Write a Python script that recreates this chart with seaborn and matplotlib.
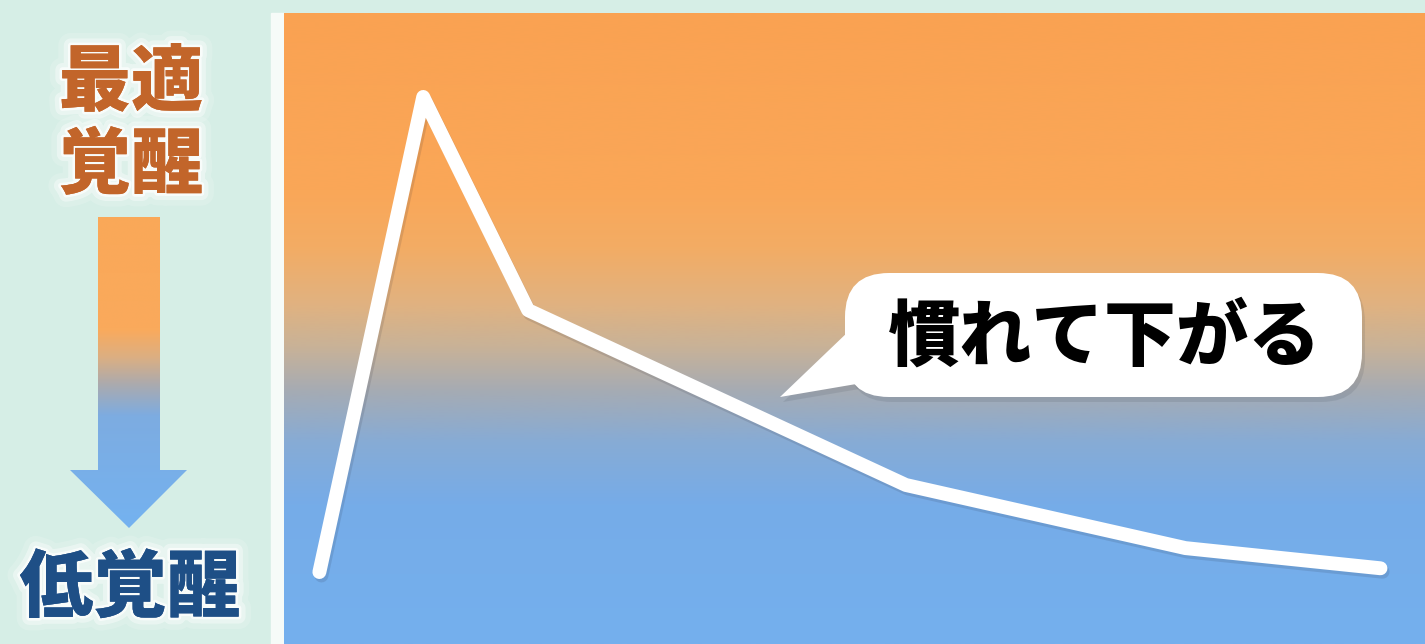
import numpy as np
import pandas as pd
import matplotlib
matplotlib.use("Agg")
import matplotlib.pyplot as plt
import matplotlib.patheffects as pe
from matplotlib.patches import Polygon, FancyBboxPatch, Rectangle
from matplotlib.colors import LinearSegmentedColormap
import seaborn as sns

# ---- data (arbitrary units: time 0-100, arousal 0-100) ----
time_pts = [3.1, 12.2, 21.4, 54.5, 79.0, 96.1]
arousal = [11.4, 86.7, 52.9, 25.2, 15.2, 12.0]
label_top = "最適\n覚醒"
label_bottom = "低覚醒"
bubble_text = "慣れて下がる"

sns.set_theme(style="white")
plt.rcParams['font.family'] = ['Noto Sans CJK JP', 'DejaVu Sans']

W, H = 1425, 644
fig = plt.figure(figsize=(W / 100, H / 100), dpi=100)
fig.patch.set_facecolor("#d6eee6")

# background overlay (pixel coordinates)
bg = fig.add_axes([0, 0, 1, 1], zorder=0)
bg.set_xlim(0, W); bg.set_ylim(H, 0); bg.axis("off")

# white strip left of plot
bg.add_patch(Rectangle((271, 13), 13, H - 13, color="#f6fbf8", zorder=1))

# gradient colormap (orange -> grey -> blue), top to bottom
grad_cmap = LinearSegmentedColormap.from_list(
    "arousal",
    [(0.00, (250/255, 162/255, 82/255)),
     (0.28, (250/255, 167/255, 88/255)),
     (0.37, (243/255, 172/255, 100/255)),
     (0.46, (225/255, 178/255, 128/255)),
     (0.53, (200/255, 178/255, 152/255)),
     (0.60, (165/255, 171/255, 180/255)),
     (0.68, (135/255, 171/255, 213/255)),
     (0.78, (118/255, 172/255, 232/255)),
     (1.00, (116/255, 176/255, 238/255))])

arrow_cmap = LinearSegmentedColormap.from_list(
    "arrow",
    [(0.00, (250/255, 168/255, 88/255)),
     (0.36, (250/255, 170/255, 92/255)),
     (0.45, (220/255, 175/255, 130/255)),
     (0.54, (170/255, 170/255, 175/255)),
     (0.64, (125/255, 172/255, 225/255)),
     (1.00, (116/255, 178/255, 240/255))])

# left arrow with gradient
arrow_pts = [(98, 217), (160, 217), (160, 470), (187, 470), (129, 528),
             (70, 470), (98, 470)]
arrow_poly = Polygon(arrow_pts, closed=True, facecolor="none", edgecolor="none")
bg.add_patch(arrow_poly)
gy = np.linspace(0, 1, 256).reshape(-1, 1)
im = bg.imshow(gy, cmap=arrow_cmap, extent=(60, 200, 528, 217), aspect="auto",
               zorder=2, interpolation="bicubic")
im.set_clip_path(arrow_poly)
bg.set_xlim(0, W); bg.set_ylim(H, 0)

glow = [pe.withStroke(linewidth=18, foreground=(1, 1, 1, 0.15)),
        pe.withStroke(linewidth=10, foreground=(1, 1, 1, 0.4)),
        pe.withStroke(linewidth=4, foreground=(1, 1, 1, 0.7)),
        pe.Normal()]
bg.text(131, 125, label_top, ha="center", va="center", fontsize=52,
        fontweight="heavy", color="#c2652a", linespacing=1.18,
        path_effects=glow, zorder=3)
bg.text(130, 589, label_bottom, ha="center", va="center", fontsize=53,
        fontweight="heavy", color="#1e4f86", path_effects=glow, zorder=3)

# main plot
ax = fig.add_axes([284 / W, 0, 1 - 284 / W, (H - 13) / H], zorder=1)
ax.imshow(np.linspace(0, 1, 512).reshape(-1, 1), cmap=grad_cmap,
          extent=(0, 100, 0, 100), origin="upper", aspect="auto", zorder=0,
          interpolation="bicubic")
df = pd.DataFrame({"time": time_pts, "arousal": arousal})
sns.lineplot(data=df, x="time", y="arousal", ax=ax, color="white",
             linewidth=10, zorder=3, sort=False,
             solid_capstyle="round", solid_joinstyle="round",
             path_effects=[pe.SimpleLineShadow(offset=(1.5, -2.5), alpha=0.12,
                                               shadow_color="#223"),
                           pe.Normal()])
ax.set_xlim(0, 100); ax.set_ylim(0, 100)
ax.axis("off")

# top overlay for speech bubble
top = fig.add_axes([0, 0, 1, 1], zorder=2)
top.set_xlim(0, W); top.set_ylim(H, 0); top.axis("off")
top.patch.set_alpha(0)

bx0, by0, bx1, by1, r = 845, 273, 1362, 397, 44
for dx, dy, col, z in [(3, 5, (0.2, 0.25, 0.3, 0.12), 1), (0, 0, "white", 2)]:
    top.add_patch(FancyBboxPatch((bx0 + r + dx, by0 + r + dy),
                                 bx1 - bx0 - 2 * r, by1 - by0 - 2 * r,
                                 boxstyle=f"round,pad={r}", facecolor=col,
                                 edgecolor="none", zorder=z))
    top.add_patch(Polygon([(850 + dx, 330 + dy), (780 + dx, 397 + dy),
                           (868 + dx, 382 + dy)], closed=True, facecolor=col,
                          edgecolor="none", zorder=z))
top.text(1105, 338, bubble_text, ha="center", va="center", fontsize=52,
         fontweight="heavy", color="black", zorder=3)

fig.savefig("out.png", dpi=100, facecolor=fig.get_facecolor())
